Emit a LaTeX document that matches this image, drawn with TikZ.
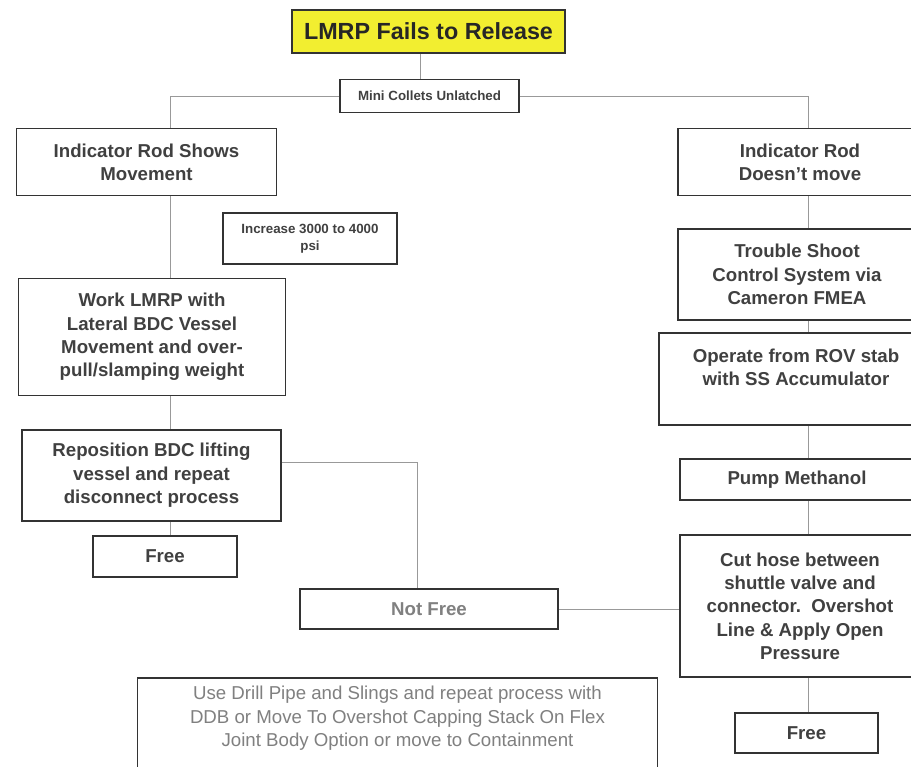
\documentclass[tikz,border=0pt]{standalone}
\usepackage{fontspec}
\setmainfont{Liberation Sans}
\usepackage{xcolor}
\usepackage{tikz}
\usetikzlibrary{positioning, calc}

\definecolor{titleyellow}{RGB}{242,238,48}

\begin{document}
\begin{tikzpicture}[
  x=0.75pt, y=-0.75pt,
  every node/.style={font=\bfseries\fontsize{14}{17.5}\selectfont, text=black!75},
  box/.style={draw=black!80, line width=1.4pt, align=center, inner sep=2pt, fill=white},
  sz/.style 2 args={minimum width=#1*0.75pt, minimum height=#2*0.75pt},
  small/.style={font=\bfseries\fontsize{10}{13}\selectfont},
  faint/.style={text=black!50},
  link/.style={draw=black!40, line width=0.7pt},
]
  \useasboundingbox (0,0) rectangle (911,767);

  % Top
  \node[box, sz={273}{43}, fill=titleyellow, text=black!85,
        font=\bfseries\fontsize{17.5}{20}\selectfont]
       (title) at (428.5,31.5) {LMRP Fails to Release};
  \node[box, small, sz={179}{33}] (collets) at (429.5,96) {Mini Collets Unlatched};

  % Left branch
  \node[box, sz={260}{67}]  (rodmove) at (146.5,162) {Indicator Rod Shows\\Movement};
  \node[box, small, sz={174}{51}] (psi) at (310,238.5) {Increase 3000 to 4000\\psi};
  \node[box, sz={267}{117}] (work)    at (152,337)   {Work LMRP with\\Lateral BDC Vessel\\Movement and over-\\pull/slamping weight};
  \node[box, sz={259}{91}]  (repos)   at (151.5,475.5) {Reposition BDC lifting\\vessel and repeat\\disconnect process};
  \node[box, sz={144}{41}]  (freeL)   at (165,556.5) {Free};

  % Middle
  \node[box, faint, sz={258}{40}] (notfree) at (429,609) {Not Free};
  \node[box, faint, sz={520}{100}, font=\fontsize{14}{17.5}\selectfont] (drill) at (397.5,728)
       {Use Drill Pipe and Slings and repeat process with\\DDB or Move To Overshot Capping Stack On Flex\\Joint Body Option or move to Containment\\~};

  % Right branch
  \node[box, sz={244}{67}]  (rodstuck) at (800,162)   {Indicator Rod\\Doesn't move};
  \node[box, sz={238}{91}]  (trouble)  at (797,274.5) {Trouble Shoot\\Control System via\\Cameron FMEA};
  \node[box, sz={274}{92}]  (operate)  at (796,379)   {Operate from ROV stab\\with SS Accumulator\\~};
  \node[box, sz={234}{41}]  (pump)     at (797,479.5) {Pump Methanol};
  \node[box, sz={240}{142}] (cuthose)  at (800,606)   {Cut hose between\\shuttle valve and\\connector.~~Overshot\\Line \& Apply Open\\Pressure};
  \node[box, sz={143}{40}]  (freeR)    at (806.5,733) {Free};

  % Spines
  \coordinate (mspine) at (420,0);
  \coordinate (lspine) at (170,0);
  \coordinate (rspine) at (808,0);

  % Connectors
  \draw[link] (title.south -| mspine) -- (collets.north -| mspine);
  \draw[link] (collets.west) -| (rodmove.north -| lspine);
  \draw[link] (collets.east) -| (rodstuck.north -| rspine);
  \foreach \a/\b in {rodmove/work, work/repos, repos/freeL}
    \draw[link] (\a.south -| lspine) -- (\b.north -| lspine);
  \foreach \a/\b in {rodstuck/trouble, trouble/operate, operate/pump, pump/cuthose, cuthose/freeR}
    \draw[link] (\a.south -| rspine) -- (\b.north -| rspine);
  \draw[link] ($(repos.east)+(0,-13.5)$) -| ($(notfree.north)+(-12,0)$);
  \draw[link] (notfree.east) -- (notfree.east -| cuthose.west);
  \draw[link] ($(notfree.south)+(-20,0)$) -- ($(notfree.south)+(-20,0)$ |- drill.north);
\end{tikzpicture}
\end{document}
